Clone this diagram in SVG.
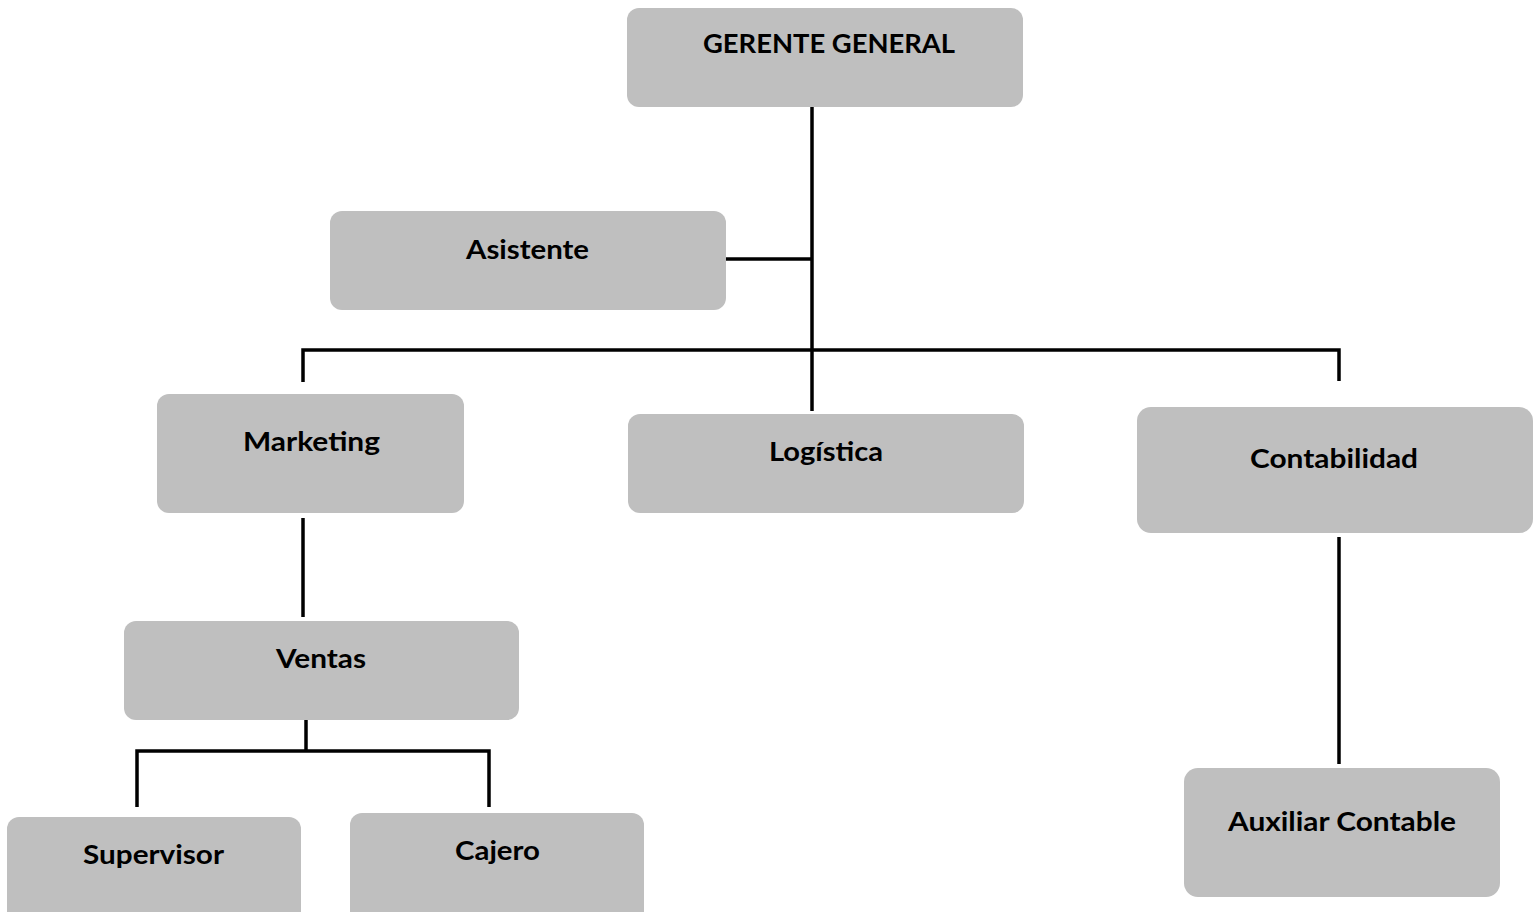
<svg xmlns="http://www.w3.org/2000/svg" width="1540" height="912" viewBox="0 0 1540 912">
<style>
.box{fill:#bfbfbf;}
.lbl{font-family:Lato,"Liberation Sans",sans-serif;font-weight:bold;font-size:27px;fill:#000;text-anchor:middle;}
.con{stroke:#000;stroke-width:3.5;fill:none;stroke-linecap:butt;}
</style>
<rect width="1540" height="912" fill="#fff"/>
<g id="connectors">
<line class="con" x1="812" y1="107" x2="812" y2="411"/>
<line class="con" x1="726" y1="259" x2="812" y2="259"/>
<polyline class="con" points="303,382 303,350 1339,350 1339,381"/>
<line class="con" x1="303" y1="518" x2="303" y2="617"/>
<line class="con" x1="306" y1="720" x2="306" y2="751"/>
<polyline class="con" points="137,807 137,751 489,751 489,807"/>
<line class="con" x1="1339" y1="537" x2="1339" y2="764"/>
</g>
<g id="gerente"><rect class="box" x="627" y="8" width="396" height="99" rx="12"/><text class="lbl" x="829" y="53" textLength="252" lengthAdjust="spacingAndGlyphs">GERENTE GENERAL</text></g>
<g id="asistente"><rect class="box" x="330" y="211" width="396" height="99" rx="12"/><text class="lbl" x="527.5" y="259" textLength="123" lengthAdjust="spacingAndGlyphs">Asistente</text></g>
<g id="marketing"><rect class="box" x="157" y="394" width="307" height="119" rx="12"/><text class="lbl" x="311.5" y="451" textLength="137" lengthAdjust="spacingAndGlyphs">Marketing</text></g>
<g id="logistica"><rect class="box" x="628" y="414" width="396" height="99" rx="12"/><text class="lbl" x="826" y="461" textLength="114" lengthAdjust="spacingAndGlyphs">Logística</text></g>
<g id="contabilidad"><rect class="box" x="1137" y="407" width="396" height="126" rx="14"/><text class="lbl" x="1334" y="468" textLength="168" lengthAdjust="spacingAndGlyphs">Contabilidad</text></g>
<g id="ventas"><rect class="box" x="124" y="621" width="395" height="99" rx="12"/><text class="lbl" x="321" y="668" textLength="90" lengthAdjust="spacingAndGlyphs">Ventas</text></g>
<g id="supervisor"><rect class="box" x="7" y="817" width="294" height="110" rx="12"/><text class="lbl" x="153.5" y="864" textLength="141" lengthAdjust="spacingAndGlyphs">Supervisor</text></g>
<g id="cajero"><rect class="box" x="350" y="813" width="294" height="110" rx="12"/><text class="lbl" x="497.5" y="860" textLength="85" lengthAdjust="spacingAndGlyphs">Cajero</text></g>
<g id="auxiliar"><rect class="box" x="1184" y="768" width="316" height="129" rx="14"/><text class="lbl" x="1342" y="831" textLength="228" lengthAdjust="spacingAndGlyphs">Auxiliar Contable</text></g>
</svg>
